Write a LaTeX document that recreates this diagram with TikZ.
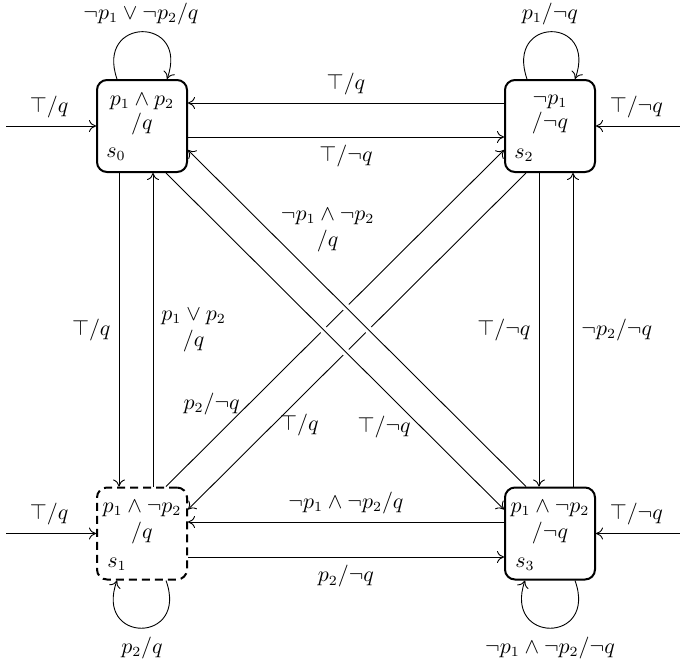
\documentclass[tikz,border=0pt]{standalone}
\usetikzlibrary{calc,arrows.meta}
\begin{document}
\begin{tikzpicture}[x=0.5pt,y=-0.5pt,
  font=\fontsize{10.5}{13}\selectfont,
  statebox/.style={draw, line width=1pt, rounded corners=5pt,
    minimum width=45pt, minimum height=46pt, inner sep=0pt},
  edge/.style={-{To[length=3.5pt,width=6pt]}, line width=0.45pt},
  over/.style={preaction={draw=white, -, line width=3.8pt,
    shorten <=6pt, shorten >=6pt}},
  txt/.style={inner sep=0pt, anchor=base},
  lbl/.style={inner sep=4pt},
]
\useasboundingbox (0,0) rectangle (680,666);

% states
\node[statebox] (s0) at (142,126) {};
\node[statebox] (s2) at (550,126) {};
\node[statebox, dash pattern=on 4pt off 2.5pt] (s1) at (142,533.5) {};
\node[statebox] (s3) at (550,533.5) {};

% state texts
\node[txt] (s0a) at (142,105) {$p_1\wedge p_2$};
\node[txt] (s0b) at (142,129) {$/q$};
\node[txt, anchor=base west] (s0c) at (106,157) {$s_0$};

\node[txt] (s2a) at (550,104) {$\neg p_1$};
\node[txt] (s2b) at (550,128) {$/\neg q$};
\node[txt, anchor=base west] (s2c) at (514,158) {$s_2$};

\node[txt] (s1a) at (142,512) {$p_1\wedge\neg p_2$};
\node[txt] (s1b) at (142,538) {$/q$};
\node[txt, anchor=base west] (s1c) at (107,567) {$s_1$};

\node[txt] (s3a) at (550,512) {$p_1\wedge\neg p_2$};
\node[txt] (s3b) at (550,538) {$/\neg q$};
\node[txt, anchor=base west] (s3c) at (515,567) {$s_3$};

% initial arrows
\coordinate (i0) at (6,126);
\coordinate (i2) at (680,126);
\coordinate (i1) at (6,533.5);
\coordinate (i3) at (680,533.5);
\draw[edge] (i0) -- node[lbl, above, pos=0.48] {$\top/q$} (s0);
\draw[edge] (i2) -- node[lbl, above, pos=0.52] {$\top/\neg q$} (s2);
\draw[edge] (i1) -- node[lbl, above, pos=0.48] {$\top/q$} (s1);
\draw[edge] (i3) -- node[lbl, above, pos=0.52] {$\top/\neg q$} (s3);

% loops
\draw[edge] ($(s0.north)+(-25,0)$) .. controls (95,16) and (190,16) .. ($(s0.north)+(25,0)$);
\node (l0) at (141,14) {$\neg p_1\vee\neg p_2/q$};
\draw[edge] ($(s2.north)+(-23,0)$) .. controls (505,16) and (598,16) .. ($(s2.north)+(25,0)$);
\node (l2) at (550,14) {$p_1/\neg q$};
\draw[edge] ($(s1.south)+(24,0)$) .. controls (189,644) and (94,644) .. ($(s1.south)+(-25,0)$);
\node (l1) at (142,648) {$p_2/q$};
\draw[edge] ($(s3.south)+(25,0)$) .. controls (598,644) and (503,644) .. ($(s3.south)+(-25,0)$);
\node (l3) at (550,648) {$\neg p_1\wedge\neg p_2/\neg q$};

% horizontal
\draw[edge] ($(s2.west)+(0,-23)$) -- node[lbl, above] {$\top/q$} ($(s0.east)+(0,-23)$);
\draw[edge] ($(s0.east)+(0,11)$) -- node[lbl, below] {$\top/\neg q$} ($(s2.west)+(0,11)$);
\draw[edge] ($(s3.west)+(0,-11.5)$) -- node[lbl, above] {$\neg p_1\wedge\neg p_2/q$} ($(s1.east)+(0,-11.5)$);
\draw[edge] ($(s1.east)+(0,23.5)$) -- node[lbl, below] {$p_2/\neg q$} ($(s3.west)+(0,23.5)$);

% vertical
\draw[edge] ($(s0.south)+(-23,0)$) -- node[lbl, left] {$\top/q$} ($(s1.north)+(-23,0)$);
\draw[edge] ($(s1.north)+(11,0)$) -- node[lbl, right, align=center] {$p_1\vee p_2$\\$/q$} ($(s0.south)+(11,0)$);
\draw[edge] ($(s2.south)+(-11,0)$) -- node[lbl, left] {$\top/\neg q$} ($(s3.north)+(-11,0)$);
\draw[edge] ($(s3.north)+(23,0)$) -- node[lbl, right] {$\neg p_2/\neg q$} ($(s2.south)+(23,0)$);

% diagonals SW-NE (underneath)
\draw[edge] ($(s1.north)+(24,0)$) -- node[pos=0.19, shift={(-18.5,-18.5)}] {$p_2/\neg q$} ($(s2.west)+(0,24)$);
\draw[edge] ($(s2.south)+(-24,0)$) -- node[pos=0.709, shift={(13,13)}] {$\top/q$} ($(s1.east)+(0,-24)$);

% diagonals NW-SE (on top)
\draw[edge, over] ($(s0.south)+(24,0)$) -- node[pos=0.70, shift={(-18.5,18.5)}] {$\top/\neg q$} ($(s3.west)+(0,-24)$);
\draw[edge, over] ($(s3.north)+(-24,0)$) -- node[pos=0.674, shift={(29.5,-29.5)}, align=center] {$\neg p_1\wedge\neg p_2$\\$/q$} ($(s0.east)+(0,24)$);
\end{tikzpicture}
\end{document}
